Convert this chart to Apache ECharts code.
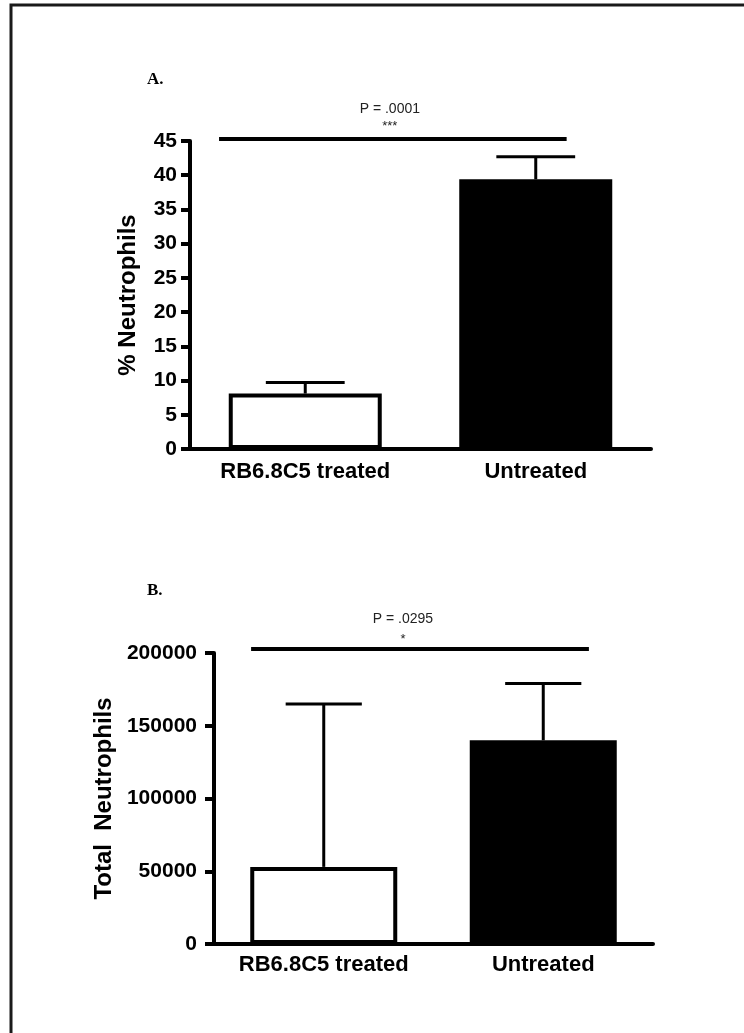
<!DOCTYPE html>
<html>
<head>
<meta charset="utf-8">
<script src="https://cdn.jsdelivr.net/npm/echarts@6/dist/echarts.min.js"></script>
<style>
html,body{margin:0;padding:0;background:#fff;}
#c{width:744px;height:1033px;}
</style>
</head>
<body>
<div id="c"></div>
<script>
// ---- data ----
const categories = ['RB6.8C5 treated', 'Untreated'];
// Panel A: % Neutrophils
const pctMean = [8.1, 39.4];
const pctErrTop = [9.7, 42.7];
const pctTicks = [0, 5, 10, 15, 20, 25, 30, 35, 40, 45];
// Panel B: Total Neutrophils
const totMean = [53000, 140000];
const totErrTop = [165000, 179000];
const totTicks = [0, 50000, 100000, 150000, 200000];
// significance annotations
const sigA = { p: 'P = .0001', stars: '***', starOff: 13 };
const sigB = { p: 'P = .0295', stars: '*', starOff: 10 };

const FONT = '"Liberation Sans", Arial, sans-serif';
const chart = echarts.init(document.getElementById('c'), null, { renderer: 'canvas' });

function errSeries(xi, yi, mean, top, capFrac, lw) {
  return {
    type: 'custom', xAxisIndex: xi, yAxisIndex: yi, z: 3,
    data: mean.map((m, i) => [i, m, top[i]]),
    renderItem: function (params, api) {
      const p0 = api.coord([api.value(0), api.value(1)]);
      const p1 = api.coord([api.value(0), api.value(2)]);
      const half = api.size([1, 0])[0] * capFrac / 2;
      const st = { stroke: '#000', lineWidth: lw };
      return { type: 'group', children: [
        { type: 'line', shape: { x1: p0[0], y1: p0[1], x2: p1[0], y2: p1[1] }, style: st },
        { type: 'line', shape: { x1: p1[0] - half, y1: p1[1], x2: p1[0] + half, y2: p1[1] }, style: st }
      ]};
    }
  };
}

function sigSeries(xi, yi, x0, x1, xText, yLine, sig) {
  return {
    type: 'custom', xAxisIndex: xi, yAxisIndex: yi, z: 4,
    data: [[x0, x1, yLine, xText]],
    renderItem: function (params, api) {
      const a = api.coord([api.value(0), api.value(2)]);
      const b = api.coord([api.value(1), api.value(2)]);
      const t = api.coord([api.value(3), api.value(2)]);
      return { type: 'group', children: [
        { type: 'line', shape: { x1: a[0], y1: a[1], x2: b[0], y2: b[1] }, style: { stroke: '#000', lineWidth: 4 } },
        { type: 'text', x: t[0], y: a[1] - 30, style: { text: sig.p, fill: '#222', font: '14px ' + FONT, align: 'center', verticalAlign: 'middle' } },
        { type: 'text', x: t[0], y: a[1] - sig.starOff, style: { text: sig.stars, fill: '#222', font: '13px ' + FONT, align: 'center', verticalAlign: 'middle' } }
      ]};
    }
  };
}

function catAxis(gi, margin) {
  return {
    type: 'category', gridIndex: gi, data: categories,
    axisLine: { onZero: false, lineStyle: { color: '#000', width: 4 } },
    axisTick: { alignWithLabel: true, length: 9, lineStyle: { color: '#000', width: 4 } },
    axisLabel: { interval: 0, hideOverlap: false, color: '#000', fontWeight: 'bold', fontSize: 22, fontFamily: FONT, margin: margin }
  };
}
function hidAxis(gi) {
  return { type: 'value', gridIndex: gi, min: -0.5, max: 1.5, show: false };
}
function valAxis(gi, max, interval, name, nameGap, margin, fs) {
  return {
    type: 'value', gridIndex: gi, min: 0, max: max, interval: interval,
    name: name, nameLocation: 'middle', nameGap: nameGap, nameRotate: 90,
    nameTextStyle: { color: '#000', fontWeight: 'bold', fontSize: 24, fontFamily: FONT },
    splitLine: { show: false },
    axisLine: { show: true, onZero: false, lineStyle: { color: '#000', width: 4 } },
    axisTick: { show: true, length: 9, lineStyle: { color: '#000', width: 4 } },
    axisLabel: { color: '#000', fontWeight: 'bold', fontSize: fs, fontFamily: FONT, margin: margin,
      formatter: function (v) { return String(v); } }
  };
}

const option = {
  animation: false,
  backgroundColor: '#fff',
  graphic: [
    { type: 'rect', shape: { x: 11, y: 5, width: 800, height: 1100 }, style: { fill: 'none', stroke: '#1a1a1a', lineWidth: 3 } },
    { type: 'text', x: 147, y: 80, style: { text: 'A.', font: 'bold 17px "Liberation Serif", "Times New Roman", serif', fill: '#000', verticalAlign: 'middle' } },
    { type: 'text', x: 147, y: 591, style: { text: 'B.', font: 'bold 17px "Liberation Serif", "Times New Roman", serif', fill: '#000', verticalAlign: 'middle' } }
  ],
  grid: [
    { left: 190, width: 461, top: 141, height: 308 },
    { left: 214, width: 439, top: 653, height: 291 }
  ],
  xAxis: [catAxis(0, 12), hidAxis(0), catAxis(1, 10), hidAxis(1)],
  yAxis: [
    valAxis(0, 45, 5, '% Neutrophils', 50, 13, 21),
    valAxis(1, 200000, 50000, 'Total  Neutrophils', 94, 17, 21)
  ],
  series: [
    { type: 'bar', xAxisIndex: 0, yAxisIndex: 0, barWidth: 153, z: 2,
      data: pctMean.map((v, i) => ({ value: v, itemStyle: i === 0 ? { color: '#fff', borderColor: '#000', borderWidth: 4 } : { color: '#000' } })) },
    errSeries(0, 0, pctMean, pctErrTop, 0.342, 3),
    sigSeries(1, 0, -0.374, 1.134, 0.367, 45.3, sigA),
    { type: 'bar', xAxisIndex: 2, yAxisIndex: 1, barWidth: 147, z: 2,
      data: totMean.map((v, i) => ({ value: v, itemStyle: i === 0 ? { color: '#fff', borderColor: '#000', borderWidth: 4 } : { color: '#000' } })) },
    errSeries(2, 1, totMean, totErrTop, 0.347, 3),
    sigSeries(3, 1, -0.331, 1.208, 0.361, 202700, sigB)
  ]
};
chart.setOption(option);
</script>
</body>
</html>
